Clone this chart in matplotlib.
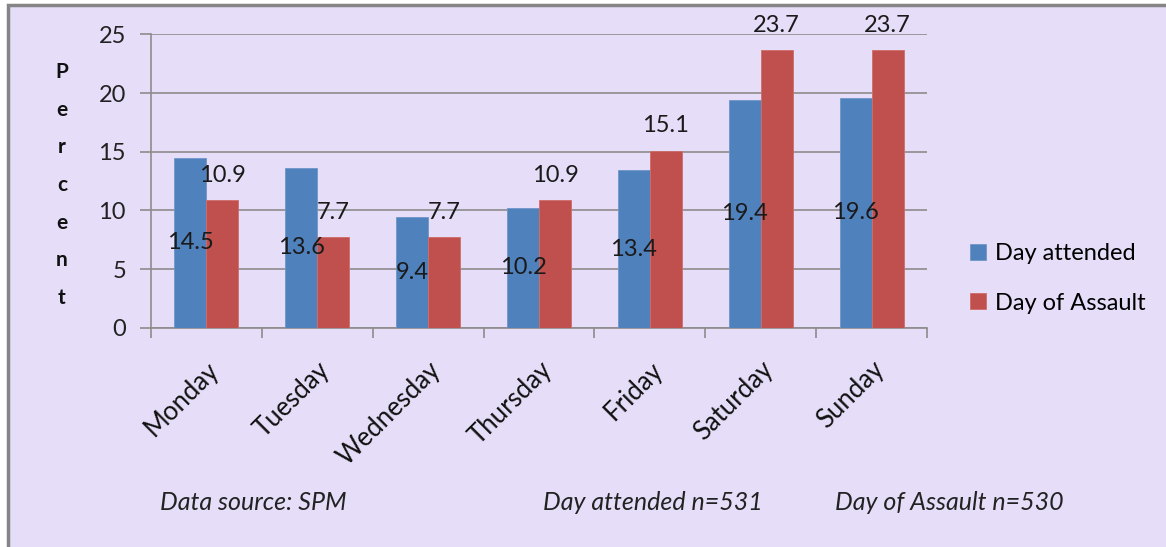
import numpy as np
import matplotlib
matplotlib.use('Agg')
import matplotlib.pyplot as plt
from matplotlib.patches import Rectangle

# Data
days = ['Monday', 'Tuesday', 'Wednesday', 'Thursday', 'Friday', 'Saturday', 'Sunday']
day_attended = [14.5, 13.6, 9.4, 10.2, 13.4, 19.4, 19.6]
day_of_assault = [10.9, 7.7, 7.7, 10.9, 15.1, 23.7, 23.7]
yticks = [0, 5, 10, 15, 20, 25]
notes = ['Data source: SPM', 'Day attended n=531', 'Day of Assault n=530']

blue = '#4F81BD'
red = '#C0504D'
grid_col = '#8C8C8C'
bg = '#E6DDF8'

plt.rcParams['font.family'] = ['Lato', 'DejaVu Sans']

W, H = 1166, 547
fig = plt.figure(figsize=(W / 100, H / 100), dpi=100)
fig.patch.set_facecolor('white')

# lavender chart area with grey frame
fig.patches.append(Rectangle((8 / W, -0.01), 1.0, 1 - 5 / H + 0.01, transform=fig.transFigure,
                             facecolor=bg, edgecolor='#858585', linewidth=2.5, zorder=-5))

ax = fig.add_axes([151 / W, 1 - 327.7 / H, (927 - 151) / W, (327.7 - 34.4) / H])
ax.set_facecolor('none')
ax.set_zorder(2)

x = np.arange(len(days))
bw = 0.289
b1 = ax.bar(x - bw / 2, day_attended, bw, color=blue, edgecolor='#6E96C8', linewidth=0.6,
            label='Day attended', zorder=3)
b2 = ax.bar(x + bw / 2, day_of_assault, bw, color=red, edgecolor='#D06C69', linewidth=0.6,
            label='Day of Assault', zorder=3)

# data labels
for xi, v in zip(x, day_attended):
    ax.text(xi - bw / 2, v / 2, f'{v:.1f}', ha='center', va='center', fontsize=17,
            color='#1a1a1a', zorder=5)
for xi, v in zip(x, day_of_assault):
    ax.text(xi + bw / 2, v + 2.1, f'{v:.1f}', ha='center', va='center', fontsize=17,
            color='#1a1a1a', zorder=5)

ax.set_xlim(-0.5, len(days) - 0.5)
ax.set_ylim(0, 25)

for s in ['top', 'right']:
    ax.spines[s].set_visible(False)
for s in ['left', 'bottom']:
    ax.spines[s].set_color(grid_col)
    ax.spines[s].set_linewidth(1.2)

ax.set_yticks(yticks)
ax.set_yticklabels([str(t) for t in yticks], fontsize=17, color='#222222')
ax.tick_params(axis='y', length=8, width=1.2, color=grid_col, pad=10)
ax.yaxis.grid(True, color=grid_col, linewidth=1.2, zorder=1)
ax.set_axisbelow(True)

# category boundaries carry the tick marks, centres carry the labels
ax.set_xticks(np.arange(len(days) + 1) - 0.5)
ax.set_xticklabels([])
ax.tick_params(axis='x', which='major', length=7, width=1.2, color=grid_col)
ax.set_xticks(x, minor=True)
ax.set_xticklabels(days, minor=True, rotation=45, ha='right', rotation_mode='anchor',
                   fontsize=18.5, color='#111111')
ax.tick_params(axis='x', which='minor', length=0, pad=21)

# stacked y label
fig.text(62 / W, 1 - 185 / H, '\n'.join('Percent'), ha='center', va='center',
         fontsize=15, fontweight='bold', linespacing=2.1, color='#111111')

leg = fig.legend(handles=[b1, b2], loc='center left', bbox_to_anchor=(949 / W, 1 - 278.5 / H),
                 frameon=False, fontsize=17, handlelength=0.65, handleheight=0.65,
                 handletextpad=0.4, labelspacing=1.2)

for txt, xp in zip(notes, [160, 543, 835]):
    fig.text(xp / W, 1 - 503 / H, txt, ha='left', va='center', fontsize=18,
             style='italic', color='#222222')

fig.savefig('out.png', dpi=100, facecolor=fig.get_facecolor())
